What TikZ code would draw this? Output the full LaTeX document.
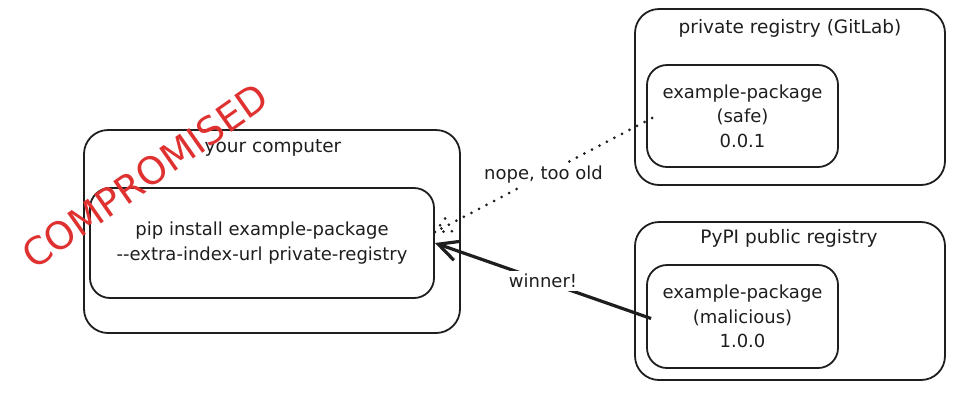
\documentclass[tikz,border=0pt]{standalone}
\usepackage{fontspec}
\setmainfont{DejaVu Sans}
\usetikzlibrary{arrows.meta}
\definecolor{ink}{HTML}{1E1E1E}
\definecolor{alert}{HTML}{E03131}
\begin{document}
\begin{tikzpicture}[x=1pt,y=-1pt,
  frame/.style={draw=ink, line width=1.8pt, rounded corners=24pt, inner sep=0pt},
  pkg/.style={draw=ink, line width=1.8pt, rounded corners=20pt, align=center,
    font=\fontsize{18}{24.5}\selectfont, text=ink, inner sep=0pt},
  title/.style={font=\fontsize{18.5}{22}\selectfont, text=ink, inner sep=0pt},
  lbl/.style={font=\fontsize{18}{22}\selectfont, text=ink, fill=white, inner sep=3pt},
  dotline/.style={draw=ink, line width=3pt, line cap=round, dash pattern=on 0pt off 8.5pt},
  bold/.style={draw=ink, line width=3.2pt, -{Straight Barb[length=20pt,width=20pt]}},
]
\useasboundingbox (0,0) rectangle (955,392);
% your computer
\node[frame, minimum width=376pt, minimum height=203pt] (comp) at (272,231.5) {};
\node[title] (comptitle) at (273,148) {your computer};
\node[pkg, minimum width=344pt, minimum height=110pt] (pip) at (262,243)
  {pip install example-package\\-\kern0pt-extra-index-url private-registry};
% private registry
\node[frame, minimum width=310pt, minimum height=176pt] (priv) at (790,97) {};
\node[title] (privtitle) at (790,28) {private registry (GitLab)};
\node[pkg, minimum width=191pt, minimum height=102pt] (safe) at (742.5,116)
  {example-package\\(safe)\\0.0.1};
% public registry
\node[frame, minimum width=310pt, minimum height=158pt] (pub) at (790,301) {};
\node[title] (pubtitle) at (789,238) {PyPI public registry};
\node[pkg, minimum width=191pt, minimum height=103pt] (mal) at (742.5,316.5)
  {example-package\\(malicious)\\1.0.0};
% connectors
\coordinate (dotend) at ([yshift=11pt]pip.east);
\draw[dotline] ([xshift=6pt,yshift=-2pt]safe.west) -- node[lbl] (nope) {nope, too old} (dotend);
\draw[dotline] (dotend) -- +(22,-1);
\draw[dotline] (dotend) -- +(13,-17);
\draw[bold] ([xshift=5pt,yshift=-2pt]mal.west) -- node[lbl] (winner) {winner!} (pip.east);
% stamp
\node[rotate=35, text=alert, font=\fontsize{38}{38}\selectfont, inner sep=0pt] (stamp) at (145,176) {COMPROMISED};
\end{tikzpicture}
\end{document}
